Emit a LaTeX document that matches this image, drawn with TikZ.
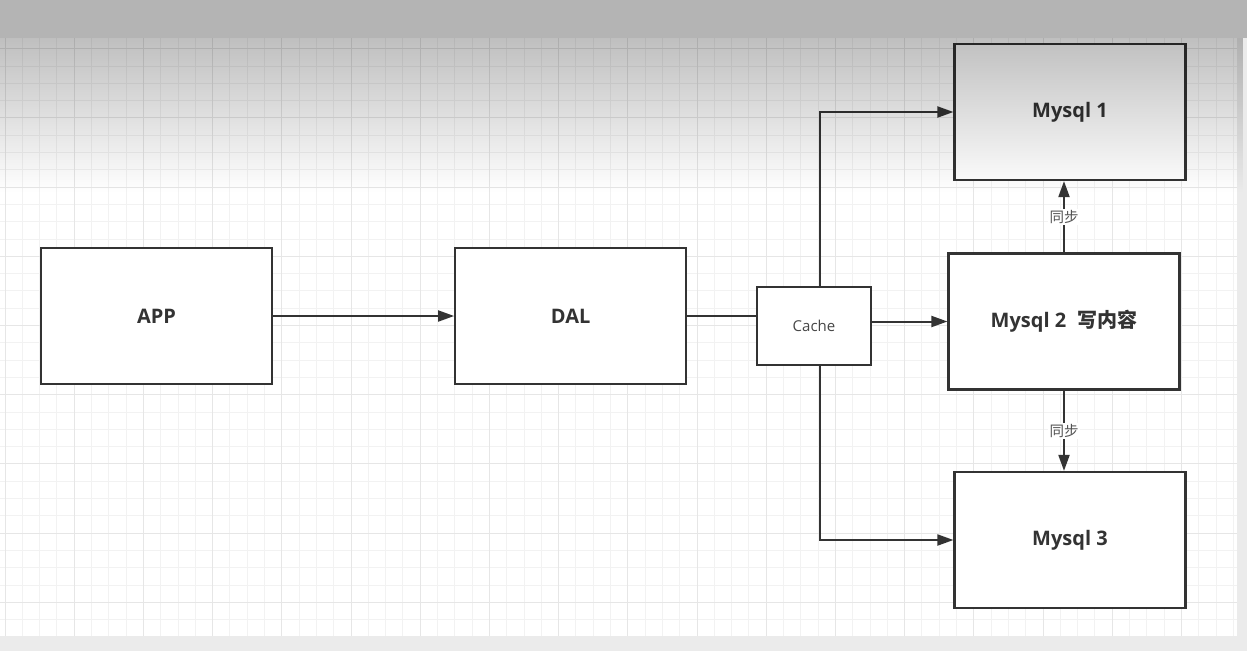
\documentclass[tikz,border=0pt]{standalone}
\usepackage{fontspec}
\setmainfont{Open Sans}
\newfontfamily\cjkfont{Noto Sans CJK SC}
\usepackage{tikz}
\usetikzlibrary{arrows.meta, positioning, fadings}
\definecolor{inkgray}{HTML}{333333}
\definecolor{framegray}{HTML}{EBEBEB}
\definecolor{bargray}{HTML}{B4B4B4}
\definecolor{gridminor}{HTML}{F2F2F2}
\definecolor{gridmajor}{HTML}{E6E6E6}
\tikzfading[name=fadedown, top color=transparent!0, bottom color=transparent!100]

\begin{document}
\begin{tikzpicture}[x=1pt, y=-1pt,
        block/.style={rectangle, draw=inkgray, line width=2.2pt, fill=white, minimum width=231pt, minimum height=136pt, text=inkgray, font=\fontsize{20}{24}\selectfont\bfseries},
        cachebox/.style={rectangle, draw=inkgray, line width=2pt, fill=white, minimum width=114pt, minimum height=78pt, text=inkgray!90, font=\fontsize{15}{18}\selectfont},
        arr/.style={-{Triangle[length=16pt, width=11pt]}, line width=2pt, draw=inkgray},
        wire/.style={line width=2pt, draw=inkgray},
        synclabel/.style={fill=white, inner sep=1.5pt, text=inkgray!85, font=\cjkfont\fontsize{14.5}{17}\selectfont}
    ]
        \useasboundingbox (0,0) rectangle (1247,651);
        % page and grid
        \fill[framegray] (0,0) rectangle (1247,651);
        \fill[white] (0,38) rectangle (1237,636);
        \foreach \k in {0,...,71}
            \draw[gridminor, line width=1pt] ({5+17.3*\k},38) -- ({5+17.3*\k},636);
        \foreach \k in {0,...,33}
            \draw[gridminor, line width=1pt] (0,{48.7+17.3*\k}) -- (1237,{48.7+17.3*\k});
        \foreach \k in {0,...,17}
            \draw[gridmajor, line width=1pt] ({5+69.2*\k},38) -- ({5+69.2*\k},636);
        \foreach \k in {0,...,8}
            \draw[gridmajor, line width=1pt] (0,{48.7+69.2*\k}) -- (1237,{48.7+69.2*\k});

        % boxes
        \node[block] (app) at (156.5,316) {APP};
        \node[block, right=181pt of app] (dal) {DAL};
        \node[cachebox] (cache) at (814,326) {Cache};
        \node[block] (mysqla) at (1070,112) {Mysql 1};
        \node[block] (mysqlb) at (1064,321.5) {Mysql 2\hspace{0.55em}{\cjkfont 写内容}};
        \node[block] (mysqlc) at (1070,540) {Mysql 3};

        % APP -> DAL -> Cache
        \draw[arr] (app.east) -- (dal.west);
        \draw[wire] (dal.east) -- (dal.east -| cache.west);
        % Cache -> Mysql
        \draw[arr] ([xshift=6pt]cache.north) |- (mysqla.west);
        \draw[arr] (cache.east |- mysqlb.west) -- (mysqlb.west);
        \draw[arr] ([xshift=6pt]cache.south) |- (mysqlc.west);
        % sync
        \draw[arr] (mysqlb.north) -- node[synclabel] {同步} (mysqlb.north |- mysqla.south);
        \draw[arr] (mysqlb.south) -- node[synclabel] {同步} (mysqlb.south |- mysqlc.north);

        % window shade
        \fill[black, fill opacity=0.25, path fading=fadedown] (0,38) rectangle (1247,192);
        \fill[bargray] (0,0) rectangle (1247,38);
    \end{tikzpicture}
\end{document}
